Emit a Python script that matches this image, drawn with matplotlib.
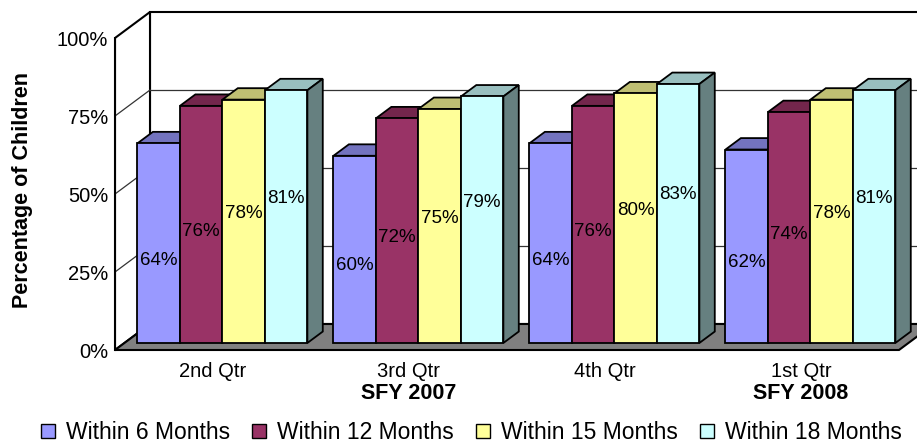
import matplotlib.pyplot as plt
from matplotlib.patches import Polygon
from matplotlib.lines import Line2D

plt.rcParams['font.family'] = ['Liberation Sans', 'DejaVu Sans']

# datos
trimestres = ['2nd Qtr', '3rd Qtr', '4th Qtr', '1st Qtr']
anios = ['', 'SFY 2007', '', 'SFY 2008']
series = ['Within 6 Months', 'Within 12 Months', 'Within 15 Months', 'Within 18 Months']
within_6 = [64, 60, 64, 62]
within_12 = [76, 72, 76, 74]
within_15 = [78, 75, 80, 78]
within_18 = [81, 79, 83, 81]
valores = [within_6, within_12, within_15, within_18]

colores = ['#9999FF', '#993366', '#FFFF99', '#CCFFFF']
techos = ['#7373BF', '#73264C', '#BFBF73', '#99BFBF']
lados = ['#4D4D80', '#4D1A33', '#80804D', '#668080']
# altura relativa de las etiquetas dentro de cada barra
frac_etiqueta = [0.45, 0.50, 0.56, 0.60]

# proyeccion oblicua (unidades de datos por unidad de profundidad)
DX = 35 / 196
DY = 26 / 3.12
d0 = 0.27      # profundidad de la cara frontal de las barras
bd = 0.44      # profundidad de la barra
gap = 0.0665
bw = 0.2167
n = len(trimestres)

W, H = 917, 444
fig = plt.figure(figsize=(W / 100, H / 100), dpi=100)
ax = fig.add_axes([115 / W, 94 / H, (W - 115) / W, 350 / H])
ax.set_xlim(0, (W - 115) / 196)
ax.set_ylim(0, 350 / 3.12)

# paredes y piso
ax.add_patch(Polygon([(DX, DY), (n + DX, DY), (n + DX, 100 + DY), (DX, 100 + DY)],
                     closed=True, facecolor='white', edgecolor='black', lw=1.5, zorder=1))
ax.add_patch(Polygon([(0, 0), (DX, DY), (DX, 100 + DY), (0, 100)],
                     closed=True, facecolor='white', edgecolor='black', lw=1.5, zorder=1))
ax.add_patch(Polygon([(0, 0), (n, 0), (n + DX, DY), (DX, DY)],
                     closed=True, facecolor='#808080', edgecolor='black', lw=1.5,
                     zorder=2, clip_on=False))
for v in [25, 50, 75]:
    ax.plot([DX, n + DX], [v + DY, v + DY], color='#333333', lw=0.9, zorder=1.5)
    ax.plot([0, DX], [v, v + DY], color='#333333', lw=0.9, zorder=1.5)

# barras 3D
for j, vals in enumerate(valores):
    xs = [i + gap + j * bw + d0 * DX for i in range(n)]
    y0 = d0 * DY
    z = 3 + 2 * j
    ax.bar(xs, vals, width=bw, bottom=y0, align='edge', color=colores[j],
           edgecolor='black', linewidth=1.3, zorder=z + 1)
    for x0, v in zip(xs, vals):
        top = y0 + v
        ax.add_patch(Polygon([(x0, top), (x0 + bw, top), (x0 + bw + bd * DX, top + bd * DY),
                              (x0 + bd * DX, top + bd * DY)], closed=True,
                             facecolor=techos[j], edgecolor='black', lw=1.3, zorder=z))
        ax.add_patch(Polygon([(x0 + bw, y0), (x0 + bw + bd * DX, y0 + bd * DY),
                              (x0 + bw + bd * DX, top + bd * DY), (x0 + bw, top)], closed=True,
                             facecolor=lados[j], edgecolor='black', lw=1.3, zorder=z))
        ax.text(x0 + bw / 2, v * frac_etiqueta[j], f'{v}%', ha='center', va='center',
                fontsize=13.5, zorder=20)

# ejes
for s in ['top', 'right', 'bottom']:
    ax.spines[s].set_visible(False)
ax.spines['left'].set_bounds(0, 100)
ax.spines['left'].set_linewidth(1.5)
ax.spines['left'].set_zorder(2.5)
ax.set_yticks([0, 25, 50, 75, 100])
ax.set_yticklabels(['0%', '25%', '50%', '75%', '100%'])
ax.tick_params(axis='y', length=0, pad=5, labelsize=14.5)
ax.set_xticks([i + 0.5 for i in range(n)])
ax.set_xticklabels(trimestres)
ax.tick_params(axis='x', length=0, pad=8.5, labelsize=14.5)
for i, a in enumerate(anios):
    if a:
        ax.annotate(a, xy=(i + 0.5, 0), xytext=(0, -31), textcoords='offset points',
                    ha='center', va='center', fontsize=15.5, fontweight='bold',
                    annotation_clip=False)

fig.text(0.024, 0.572, 'Percentage of Children', rotation=90, ha='center', va='center',
         fontsize=15.5, fontweight='bold')

handles = [Line2D([], [], marker='s', linestyle='none', markersize=10.5,
                  markerfacecolor=c, markeredgecolor='black') for c in colores]
fig.legend(handles, series, loc='center', bbox_to_anchor=(0.513, 0.026), ncol=4,
           frameon=False, fontsize=16.5, handlelength=0.8, handletextpad=0.4,
           columnspacing=0.85, borderpad=0)

fig.savefig('out.png', dpi=100)
